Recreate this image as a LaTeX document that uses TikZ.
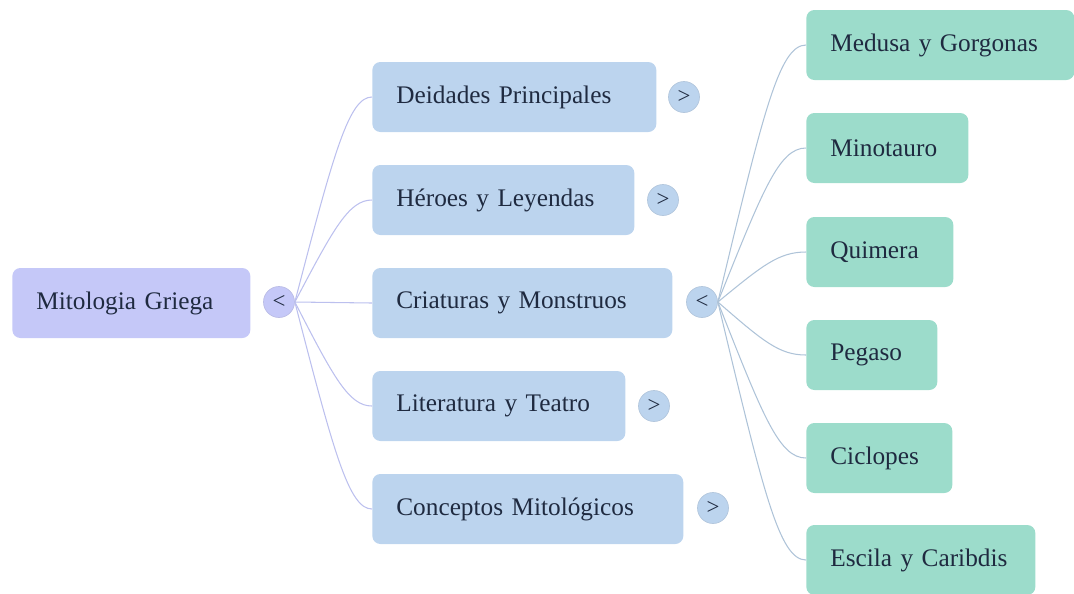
\documentclass[tikz,border=0pt]{standalone}
\usepackage{fontspec}
\setmainfont{Liberation Serif}
\definecolor{rootfill}{HTML}{C5C8F8}
\definecolor{bluefill}{HTML}{BCD4EE}
\definecolor{greenfill}{HTML}{9CDCCB}
\definecolor{inkcol}{HTML}{1F2A40}
\definecolor{rootline}{HTML}{BCC0EE}
\definecolor{blueline}{HTML}{AEC3D8}
\begin{document}
\begin{tikzpicture}[x=0.02cm, y=-0.02cm, font=\fontsize{14.4}{17}\selectfont, text=inkcol]
    \tikzstyle{topicbox}=[rounded corners=0.16cm, minimum height=1.4cm, inner xsep=0.48cm, anchor=west, align=left]
    \tikzstyle{rootbox}=[topicbox, fill=rootfill]
    \tikzstyle{bluebox}=[topicbox, fill=bluefill]
    \tikzstyle{greenbox}=[topicbox, fill=greenfill]
    \tikzstyle{togglebtn}=[circle, minimum size=0.62cm, inner sep=0pt, draw=bluefill!85!gray, fill=bluefill, font=\fontsize{13}{14}\selectfont]
    \tikzstyle{rootlink}=[draw=rootline, line width=0.6pt]
    \tikzstyle{bluelink}=[draw=blueline, line width=0.6pt]

    \useasboundingbox (0,0) rectangle (1074,593);

    % root
    \node[rootbox, text width=3.8cm] (root) at (12,303) {Mitologia Griega};
    \node[togglebtn, fill=rootfill, draw=rootfill!85!gray] (t0) at (279,302) {<};

    % first level
    \node[bluebox, text width=4.72cm] (deid) at (372,97) {Deidades Principales};
    \node[bluebox, text width=4.28cm] (hero) at (372,200) {Héroes y Leyendas};
    \node[bluebox, text width=5.04cm] (cria) at (372,303) {Criaturas y Monstruos};
    \node[bluebox, text width=4.10cm] (lit) at (372,406) {Literatura y Teatro};
    \node[bluebox, text width=5.26cm] (conc) at (372,509) {Conceptos Mitológicos};

    \node[togglebtn] (t1) at (684,97) {>};
    \node[togglebtn] (t2) at (663,200) {>};
    \node[togglebtn] (t3) at (702,302) {<};
    \node[togglebtn] (t4) at (654,406) {>};
    \node[togglebtn] (t5) at (713,508) {>};

    % second level
    \node[greenbox, text width=4.40cm] (medu) at (806,45) {Medusa y Gorgonas};
    \node[greenbox, text width=2.28cm] (mino) at (806,148) {Minotauro};
    \node[greenbox, text width=1.98cm] (quim) at (806,252) {Quimera};
    \node[greenbox, text width=1.66cm] (pega) at (806,355) {Pegaso};
    \node[greenbox, text width=1.96cm] (cicl) at (806,458) {Ciclopes};
    \node[greenbox, text width=3.62cm] (esci) at (806,560) {Escila y Caribdis};

    \draw[rootlink] (t0.east) .. controls +(39,-150) and +(-23,0) .. (deid.west);
    \draw[rootlink] (t0.east) .. controls +(39,-74) and +(-23,0) .. (hero.west);
    \draw[rootlink] (t0.east) -- (cria.west);
    \draw[rootlink] (t0.east) .. controls +(39,76) and +(-23,0) .. (lit.west);
    \draw[rootlink] (t0.east) .. controls +(39,151) and +(-23,0) .. (conc.west);

    \draw[bluelink] (t3.east) .. controls +(45,-188) and +(-27,0) .. (medu.west);
    \draw[bluelink] (t3.east) .. controls +(45,-112) and +(-27,0) .. (mino.west);
    \draw[bluelink] (t3.east) .. controls +(45,-37) and +(-27,0) .. (quim.west);
    \draw[bluelink] (t3.east) .. controls +(45,39) and +(-27,0) .. (pega.west);
    \draw[bluelink] (t3.east) .. controls +(45,114) and +(-27,0) .. (cicl.west);
    \draw[bluelink] (t3.east) .. controls +(45,188) and +(-27,0) .. (esci.west);
\end{tikzpicture}
\end{document}
